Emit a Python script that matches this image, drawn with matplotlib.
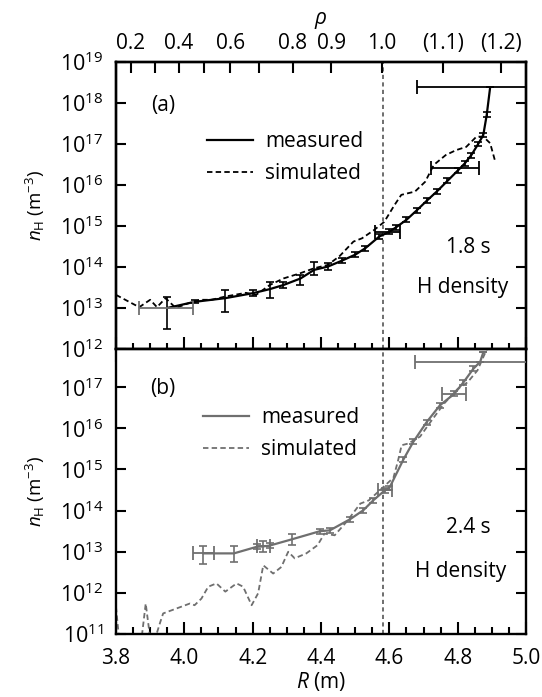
import numpy as np
import matplotlib
matplotlib.use('Agg')
import matplotlib.pyplot as plt

plt.rcParams['font.family'] = ['Open Sans', 'DejaVu Sans']
plt.rcParams['mathtext.fontset'] = 'custom'
plt.rcParams['mathtext.rm'] = 'Open Sans'
plt.rcParams['mathtext.it'] = 'Open Sans:italic'

# ---- panel (a), 1.8 s ----
a_R = [3.95, 4.03, 4.12, 4.20, 4.25, 4.29, 4.34, 4.38, 4.42, 4.46, 4.50, 4.53, 4.57, 4.60,
       4.62, 4.65, 4.68, 4.71, 4.74, 4.77, 4.80, 4.82, 4.84, 4.86, 4.875, 4.885, 4.895]
a_logn = [13.00, 13.15, 13.24, 13.36, 13.46, 13.56, 13.72, 13.93, 14.01, 14.15, 14.30, 14.46, 14.74, 14.86,
          14.97, 15.15, 15.38, 15.62, 15.85, 16.10, 16.35, 16.52, 16.73, 17.00, 17.22, 17.71, 18.38]
a_err_lo = [0.52, 0.04, 0.33, 0.07, 0.22, 0.08, 0.16, 0.13, 0.08, 0.06, 0.06, 0.06, 0.06, 0.06,
            0.06, 0.06, 0.06, 0.06, 0.06, 0.06, 0.06, 0.06, 0.06, 0.06, 0.06, 0.06, 0.0]
a_err_hi = [0.28, 0.04, 0.20, 0.07, 0.17, 0.08, 0.08, 0.20, 0.08, 0.06, 0.06, 0.06, 0.06, 0.06,
            0.06, 0.06, 0.06, 0.06, 0.06, 0.06, 0.06, 0.06, 0.06, 0.06, 0.06, 0.06, 0.0]
a_hbar_R = [3.947, 4.595, 4.792, 4.895]
a_hbar_logn = [13.0, 14.86, 16.42, 18.38]
a_hbar_xerr = [0.079, 0.036, 0.07, 0.213]

a_sim_R = [3.80, 3.868, 3.90, 3.92, 3.945, 3.975, 4.01, 4.05, 4.08, 4.12, 4.18, 4.21, 4.25, 4.29,
           4.34, 4.38, 4.42, 4.455, 4.495, 4.52, 4.555, 4.585, 4.615, 4.635, 4.675, 4.705, 4.73,
           4.765, 4.795, 4.825, 4.855, 4.875, 4.895, 4.91]
a_sim_logn = [13.32, 13.02, 13.20, 13.02, 13.24, 13.00, 13.11, 13.20, 13.20, 13.28, 13.37, 13.32, 13.56, 13.72,
              13.85, 13.97, 14.05, 14.27, 14.62, 14.70, 14.90, 15.10, 15.51, 15.76, 15.84, 16.08, 16.49,
              16.73, 16.85, 16.93, 17.18, 17.18, 17.02, 16.57]
a_decades = [12, 13, 14, 15, 16, 17, 18, 19]

# ---- panel (b), 2.4 s ----
b_R = [4.056, 4.145, 4.212, 4.231, 4.25, 4.314, 4.397, 4.426, 4.485, 4.524, 4.553, 4.588, 4.60,
       4.641, 4.670, 4.709, 4.748, 4.79, 4.817, 4.846, 4.866, 4.875]
b_logn = [12.96, 12.96, 13.12, 13.13, 13.15, 13.30, 13.50, 13.52, 13.79, 14.01, 14.25, 14.50, 14.55,
          15.24, 15.67, 16.15, 16.56, 16.84, 17.12, 17.45, 17.62, 17.85]
b_err_lo = [0.26, 0.20, 0.06, 0.13, 0.06, 0.13, 0.06, 0.06, 0.06, 0.06, 0.06, 0.06, 0.06,
            0.06, 0.06, 0.06, 0.06, 0.06, 0.06, 0.06, 0.0, 0.0]
b_err_hi = [0.18, 0.18, 0.06, 0.13, 0.06, 0.13, 0.06, 0.06, 0.06, 0.06, 0.06, 0.06, 0.06,
            0.06, 0.06, 0.06, 0.06, 0.06, 0.06, 0.06, 0.0, 0.0]
b_hbar_R = [4.056, 4.231, 4.588, 4.79, 4.866]
b_hbar_logn = [12.96, 13.13, 14.50, 16.84, 17.62]
b_hbar_xerr = [0.03, 0.019, 0.02, 0.035, 0.19]

b_sim_R = [3.80, 3.81, 3.875, 3.887, 3.90, 3.915, 3.93, 3.938, 3.977, 4.016, 4.03, 4.05, 4.07, 4.094,
           4.12, 4.153, 4.172, 4.197, 4.216, 4.231, 4.26, 4.284, 4.304, 4.323, 4.357, 4.39, 4.41,
           4.44, 4.475, 4.515, 4.54, 4.573, 4.612, 4.625, 4.636, 4.655, 4.69, 4.72, 4.76, 4.80,
           4.829, 4.858, 4.877, 4.89]
b_sim_logn = [11.66, 10.8, 10.9, 11.74, 10.9, 10.9, 11.3, 11.50, 11.62, 11.74, 11.70, 11.86, 12.15, 12.23,
              12.03, 12.23, 12.15, 11.70, 11.99, 12.67, 12.47, 12.63, 13.00, 12.84, 12.96, 13.16, 13.44,
              13.40, 13.73, 14.17, 14.25, 14.50, 14.80, 15.20, 15.59, 15.63, 15.80, 16.15, 16.60, 16.96,
              17.12, 17.41, 17.77, 18.0]
b_decades = [11, 12, 13, 14, 15, 16, 17]

rho_R = [3.843, 3.913, 3.984, 4.058, 4.134, 4.219, 4.318, 4.43, 4.579, 4.756, 4.927]
rho_labels = ['0.2', '', '0.4', '', '0.6', '', '0.8', '0.9', '1.0', '(1.1)', '(1.2)']
R_sep = 4.58

grey = '#6f6f6f'
fs = 15

fig = plt.figure(figsize=(5.42, 6.97), dpi=100)
ax_a = fig.add_axes([0.214, 0.4993, 0.7565, 0.4117])
ax_b = fig.add_axes([0.214, 0.0904, 0.7565, 0.4089])


def draw(ax, R, logn, lo, hi, hR, hlogn, hxerr, sR, slogn, col, hcols, leg_anchor, decades):
    n = 10.0 ** np.array(logn)
    yerr = [n - 10.0 ** (np.array(logn) - np.array(lo)), 10.0 ** (np.array(logn) + np.array(hi)) - n]
    ax.plot(R, n, color=col, lw=1.6, label='measured', zorder=3)
    ax.errorbar(R, n, yerr=yerr, fmt='none', ecolor=col, elinewidth=1.2, capsize=3, capthick=1.2, zorder=3)
    for x, y, xe, c in zip(hR, hlogn, hxerr, hcols):
        ax.errorbar([x], [10.0 ** y], xerr=[xe], fmt='none', ecolor=c, elinewidth=1.3, capsize=5,
                    capthick=1.3, zorder=3)
    ax.plot(sR, 10.0 ** np.array(slogn), color=col, lw=1.3, dashes=(3, 1.8), label='simulated', zorder=2)
    ax.axvline(R_sep, color='#555555', lw=1.2, dashes=(2.5, 2), zorder=1)
    ax.set_yscale('log')
    ax.set_xlim(3.8, 5.0)
    for s in ax.spines.values():
        s.set_linewidth(1.7)
    ax.yaxis.set_major_locator(matplotlib.ticker.FixedLocator([10.0 ** d for d in decades]))
    ax.yaxis.set_minor_locator(matplotlib.ticker.NullLocator())
    ax.yaxis.set_major_formatter(matplotlib.ticker.LogFormatterMathtext())
    ax.tick_params(axis='y', which='major', direction='in', length=7, width=1.5, right=True,
                   labelsize=15.5, pad=9)
    ax.set_ylabel(r'$n_\mathrm{H}$ (m$^{-3}$)', fontsize=13.5, labelpad=9)
    leg = ax.legend(loc='upper left', bbox_to_anchor=leg_anchor, frameon=False, fontsize=fs,
                    handlelength=2.2, handletextpad=0.6, labelspacing=0.5, borderaxespad=0, borderpad=0)
    for t in leg.get_texts():
        t.set_color('black')


draw(ax_a, a_R, a_logn, a_err_lo, a_err_hi, a_hbar_R, a_hbar_logn, a_hbar_xerr,
     a_sim_R, a_sim_logn, 'black', [grey, 'black', 'black', 'black'], (0.222, 0.758), a_decades)
draw(ax_b, b_R, b_logn, b_err_lo, b_err_hi, b_hbar_R, b_hbar_logn, b_hbar_xerr,
     b_sim_R, b_sim_logn, grey, [grey] * 5, (0.212, 0.795), b_decades)

ax_a.set_ylim(1e12, 1e19)
ax_b.set_ylim(1e11, 10 ** 17.93)

# x ticks: bottom of (a) crossing the shared border, bottom of (b) inward
for ax in (ax_a, ax_b):
    ax.xaxis.set_major_locator(matplotlib.ticker.FixedLocator([3.8, 4.0, 4.2, 4.4, 4.6, 4.8, 5.0]))
    ax.xaxis.set_minor_locator(matplotlib.ticker.MultipleLocator(0.05))
ax_a.tick_params(axis='x', which='major', direction='inout', length=18, width=1.5, labelbottom=False)
ax_a.tick_params(axis='x', which='minor', direction='inout', length=9, width=1.5)
ax_b.tick_params(axis='x', which='major', direction='in', length=9, width=1.5, labelsize=fs, pad=10)
ax_b.tick_params(axis='x', which='minor', direction='in', length=5, width=1.5)
ax_b.xaxis.set_major_formatter(matplotlib.ticker.FormatStrFormatter('%.1f'))
ax_b.set_xlabel(r'$R$ (m)', fontsize=fs, labelpad=1)

# top rho axis
ax_t = ax_a.twiny()
ax_t.set_xlim(3.8, 5.0)
ax_t.set_xticks(rho_R)
ax_t.set_xticklabels(rho_labels)
ax_t.xaxis.set_minor_locator(matplotlib.ticker.NullLocator())
ax_t.tick_params(axis='x', direction='in', length=8, width=1.5, labelsize=fs, pad=6)
ax_t.set_xlabel(r'$\rho$', fontsize=fs, labelpad=6)
for s in ax_t.spines.values():
    s.set_linewidth(1.7)

ax_a.text(0.115, 0.85, '(a)', transform=ax_a.transAxes, fontsize=fs, ha='center', va='center')
ax_b.text(0.115, 0.86, '(b)', transform=ax_b.transAxes, fontsize=fs, ha='center', va='center')
ax_a.text(0.86, 0.355, '1.8 s', transform=ax_a.transAxes, fontsize=fs, ha='center', va='center')
ax_a.text(0.845, 0.215, 'H density', transform=ax_a.transAxes, fontsize=fs, ha='center', va='center')
ax_b.text(0.86, 0.375, '2.4 s', transform=ax_b.transAxes, fontsize=fs, ha='center', va='center')
ax_b.text(0.84, 0.22, 'H density', transform=ax_b.transAxes, fontsize=fs, ha='center', va='center')

fig.savefig('out.png', dpi=100)
